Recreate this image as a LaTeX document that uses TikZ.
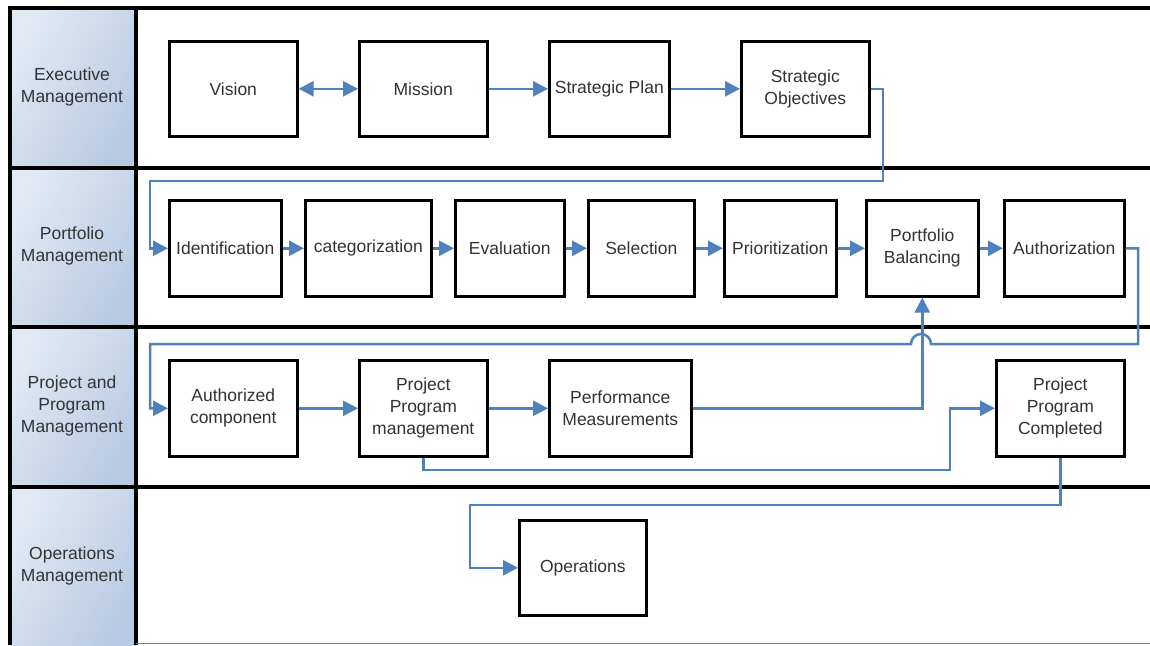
\documentclass[tikz,border=0pt]{standalone}
\usepackage{fontspec}
\setmainfont{Liberation Sans}
\usetikzlibrary{arrows.meta}
\definecolor{flow}{HTML}{4F81BD}
\definecolor{hdrlight}{HTML}{E2E9F3}
\definecolor{hdrdark}{HTML}{B7CAE3}
\definecolor{txt}{HTML}{333333}
\tikzset{
  stepbox/.style={draw=black, line width=2.6pt, fill=white, anchor=north west,
    inner sep=0pt, align=center, text=txt, font=\fontsize{17.5}{22}\selectfont,
    minimum height=95pt},
  lanetext/.style={align=center, text=txt, font=\fontsize{17.5}{22}\selectfont},
  flowline/.style={draw=flow, line width=2.5pt,
    -{Triangle[length=15pt,width=15pt]}},
  twoway/.style={draw=flow, line width=2.5pt,
    {Triangle[length=15pt,width=15pt]}-{Triangle[length=15pt,width=15pt]}},
  lane/.style={line width=4pt, draw=black},
  hdr/.style={left color=hdrlight, right color=hdrdark, shading angle=60}
}
\begin{document}
\begin{tikzpicture}[x=1pt,y=-1pt]
\useasboundingbox (0,0) rectangle (1150,645);
\fill[white] (0,0) rectangle (1150,645);

% lane header cells
\shade[hdr] (10,8) rectangle (136,168);
\shade[hdr] (10,168) rectangle (136,327);
\shade[hdr] (10,327) rectangle (136,487);
\shade[hdr] (10,487) rectangle (136,645);

\node[lanetext] (h1) at (72,87) {Executive\\Management};
\node[lanetext] (h2) at (72,246) {Portfolio\\Management};
\node[lanetext] (h3) at (72,406) {Project and\\Program\\Management};
\node[lanetext] (h4) at (72,566) {Operations\\Management};

% lane rules
\draw[lane] (8,8) -- (1150,8);
\draw[lane] (10,168) -- (1150,168);
\draw[lane] (10,327) -- (1150,327);
\draw[lane] (10,487) -- (1150,487);
\draw[lane] (10,6) -- (10,645);
\draw[lane] (136,8) -- (136,645);
\draw[gray, line width=1.2pt] (136,643.5) -- (1150,643.5);

% executive management
\node[stepbox, minimum width=128pt] (vision) at (168,40) {Vision};
\node[stepbox, minimum width=128pt] (mission) at (358,40) {Mission};
\node[stepbox, minimum width=120pt] (splan) at (548,40) {Strategic Plan};
\node[stepbox, minimum width=128pt] (sobj) at (740,40) {Strategic\\Objectives};

% portfolio management
\node[stepbox, minimum width=112pt, minimum height=96pt] (ident) at (168,199) {Identification};
\node[stepbox, minimum width=126pt, minimum height=96pt] (categ) at (304,199) {categorization};
\node[stepbox, minimum width=109pt, minimum height=96pt] (eval) at (454,199) {Evaluation};
\node[stepbox, minimum width=106pt, minimum height=96pt] (sel) at (587,199) {Selection};
\node[stepbox, minimum width=112pt, minimum height=96pt] (prio) at (723,199) {Prioritization};
\node[stepbox, minimum width=112pt, minimum height=96pt] (pbal) at (865,199) {Portfolio\\Balancing};
\node[stepbox, minimum width=120pt, minimum height=96pt] (auth) at (1003,199) {Authorization};

% project and program management
\node[stepbox, minimum width=128pt, minimum height=96pt] (authc) at (168,359) {Authorized\\component};
\node[stepbox, minimum width=128pt, minimum height=96pt] (ppm) at (358,359) {Project\\Program\\management};
\node[stepbox, minimum width=142pt, minimum height=96pt] (perf) at (548,359) {Performance\\Measurements};
\node[stepbox, minimum width=128pt, minimum height=96pt] (ppc) at (995,359) {Project\\Program\\Completed};

% operations management
\node[stepbox, minimum width=127pt] (ops) at (518,519) {Operations};

% routing points
\coordinate (r1) at (883,181);
\coordinate (l1) at (150,181);
\coordinate (r2) at (1138,344);
\coordinate (j1) at (931,344);
\coordinate (l2) at (150,344);
\coordinate (d1) at (950,470);
\coordinate (d2) at (470,505);

% connectors
\draw[twoway] (vision.east) -- (mission.west);
\draw[flowline] (mission.east) -- (splan.west);
\draw[flowline] (splan.east) -- (sobj.west);
\draw[flowline] (sobj.east) -| (r1) -- (l1) |- (ident.west);

\draw[flowline] (ident.east) -- (categ.west);
\draw[flowline] (categ.east) -- (eval.west);
\draw[flowline] (eval.east) -- (sel.west);
\draw[flowline] (sel.east) -- (prio.west);
\draw[flowline] (prio.east) -- (pbal.west);
\draw[flowline] (pbal.east) -- (auth.west);
\draw[flowline] (auth.east) -| (r2) -- (j1)
  arc[start angle=0, end angle=180, radius=10pt] -- (l2) |- (authc.west);

\draw[flowline] (authc.east) -- (ppm.west);
\draw[flowline] (ppm.east) -- (perf.west);
\draw[flowline] (perf.east) -| (pbal.south);
\draw[flowline] (ppm.south) |- (d1) |- (ppc.west);
\draw[flowline] (ppc.south) |- (d2) |- (ops.west);
\end{tikzpicture}
\end{document}
